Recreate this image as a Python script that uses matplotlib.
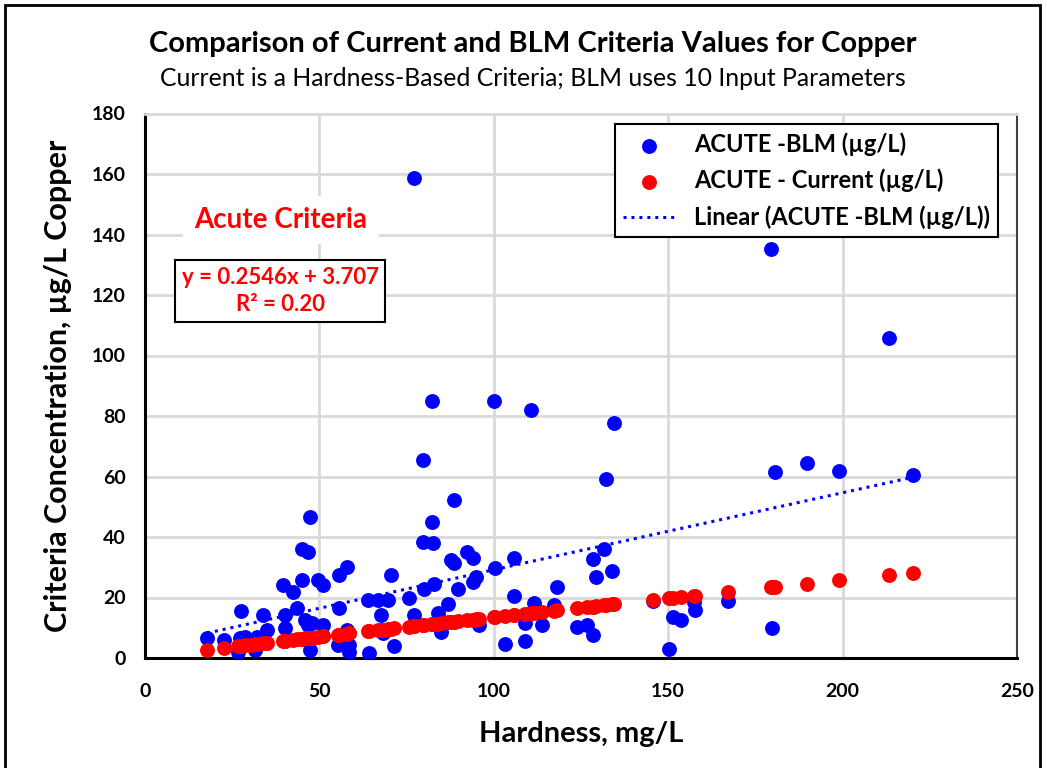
import matplotlib
matplotlib.use("Agg")
import matplotlib.pyplot as plt
from matplotlib.patches import Rectangle

# hardness (mg/L) for each sample
hardness = [
    17.8, 22.7, 26.7, 27.3, 27.6, 28.7, 30.5, 31.6, 32.2, 33.9,
    35.0, 39.7, 40.2, 40.2, 42.5, 43.7, 45.0, 45.1, 46.0, 46.8,
    46.8, 47.4, 47.4, 48.0, 49.7, 50.9, 51.1, 55.2, 55.5, 55.5,
    57.8, 58.0, 58.6, 58.6, 63.8, 64.1, 66.7, 67.8, 68.1, 69.8,
    70.4, 71.3, 75.6, 77.0, 77.0, 79.6, 79.6, 79.9, 82.2, 82.2,
    82.5, 82.8, 83.9, 84.8, 87.0, 87.6, 88.5, 88.5, 89.7, 92.2,
    94.0, 94.0, 94.8, 95.7, 100.0, 100.3, 103.2, 105.7, 105.7, 108.9,
    108.9, 110.6, 111.5, 113.8, 117.2, 118.1, 123.9, 126.7, 128.4, 128.4,
    129.3, 131.6, 132.2, 133.9, 134.5, 145.5, 150.3, 151.4, 153.7, 157.5,
    157.8, 167.2, 179.6, 179.9, 180.7, 189.9, 199.1, 213.2, 220.1,
]

acute_blm = [
    6.6, 6.0, 2.0, 6.6, 15.5, 6.9, 4.5, 2.6, 6.9, 14.2,
    9.3, 24.1, 14.2, 9.9, 21.8, 16.5, 25.8, 36.0, 12.6, 35.0,
    11.0, 2.6, 46.6, 11.6, 25.8, 10.9, 24.1, 4.3, 27.4, 16.5,
    30.1, 9.3, 4.3, 2.0, 19.2, 1.7, 19.2, 14.2, 8.3, 19.2,
    27.4, 4.0, 19.8, 14.2, 158.7, 65.5, 38.3, 22.8, 85.0, 45.0,
    38.0, 24.5, 14.9, 8.6, 17.9, 32.4, 31.4, 52.2, 22.8, 35.0,
    33.0, 25.1, 26.8, 10.9, 85.0, 29.8, 4.6, 33.0, 20.5, 11.6,
    5.6, 82.0, 18.2, 10.9, 17.5, 23.5, 10.2, 10.9, 7.6, 32.7,
    26.8, 36.0, 59.2, 28.8, 77.7, 19.0, 3.0, 13.6, 12.6, 18.5,
    15.9, 18.8, 135.2, 9.9, 61.5, 64.5, 61.8, 105.8, 60.5,
]

acute_current = [
    2.64, 3.32, 3.87, 3.96, 4.00, 4.15, 4.39, 4.54, 4.62, 4.85,
    5.00, 5.63, 5.69, 5.69, 6.00, 6.16, 6.33, 6.35, 6.47, 6.57,
    6.57, 6.65, 6.65, 6.73, 6.95, 7.11, 7.14, 7.68, 7.72, 7.72,
    8.02, 8.05, 8.12, 8.12, 8.80, 8.84, 9.18, 9.32, 9.36, 9.58,
    9.66, 9.77, 10.33, 10.51, 10.51, 10.84, 10.84, 10.88, 11.17, 11.17,
    11.21, 11.25, 11.39, 11.51, 11.79, 11.86, 11.98, 11.98, 12.13, 12.45,
    12.68, 12.68, 12.78, 12.89, 13.44, 13.48, 13.85, 14.17, 14.17, 14.57,
    14.57, 14.78, 14.89, 15.19, 15.61, 15.72, 16.46, 16.80, 17.01, 17.01,
    17.12, 17.41, 17.48, 17.69, 17.76, 19.13, 19.73, 19.86, 20.15, 20.61,
    20.64, 21.80, 23.34, 23.38, 23.48, 24.59, 25.71, 27.43, 28.25,
]

# Excel linear trendline on the BLM series
trend_slope = 0.2546
trend_intercept = 3.707
trend_r2 = 0.20

x_ticks = [0, 50, 100, 150, 200, 250]
y_ticks = [0, 20, 40, 60, 80, 100, 120, 140, 160, 180]

plt.rcParams["font.family"] = ["Lato", "DejaVu Sans"]

fig = plt.figure(figsize=(10.47, 7.68), dpi=100)
ax = fig.add_axes([145 / 1047, 1 - 658 / 768, (1017 - 145) / 1047, (658 - 113.5) / 768])

# outer chart frame
fig.patches.append(Rectangle((5 / 1047, -0.05), (1040 - 5) / 1047, 1.05 - 5 / 768,
                             transform=fig.transFigure, fill=False,
                             edgecolor="black", linewidth=2))

ax.scatter(hardness, acute_blm, s=115, color="#0000FF", zorder=3,
           label="ACUTE -BLM (\u00b5g/L)", linewidths=0)
ax.scatter(hardness, acute_current, s=115, color="#FF0000", zorder=4,
           label="ACUTE - Current (\u00b5g/L)", linewidths=0)

tx = [min(hardness), max(hardness)]
ty = [trend_slope * v + trend_intercept for v in tx]
ax.plot(tx, ty, color="#0000FF", linestyle=(0, (1, 1.6)), linewidth=2.2,
        zorder=5, label="Linear (ACUTE -BLM (\u00b5g/L))")

ax.set_xlim(0, 250)
ax.set_ylim(0, 180)
ax.set_xticks(x_ticks)
ax.set_yticks(y_ticks)
ax.tick_params(axis="y", length=0, labelsize=14, pad=14)
ax.tick_params(axis="x", length=0, labelsize=14, pad=18)
for lab in ax.get_xticklabels() + ax.get_yticklabels():
    lab.set_fontweight("bold")
ax.grid(True, color="#D9D9D9", linewidth=2)
ax.set_axisbelow(True)
for side in ["left", "bottom"]:
    ax.spines[side].set_linewidth(2.2)
    ax.spines[side].set_color("black")
ax.spines["right"].set_color("#404040")
ax.spines["right"].set_linewidth(1.5)
ax.spines["top"].set_color("#D9D9D9")
ax.spines["top"].set_linewidth(2)

ax.set_xlabel("Hardness, mg/L", fontsize=21, fontweight="bold", labelpad=15)
ax.set_ylabel("Criteria Concentration, \u00b5g/L Copper", fontsize=22,
              fontweight="bold", labelpad=14)

fig.text(533 / 1047, 1 - 44 / 768, "Comparison of Current and BLM Criteria Values for Copper",
         ha="center", va="center", fontsize=21, fontweight="bold")
fig.text(533 / 1047, 1 - 78 / 768, "Current is a Hardness-Based Criteria; BLM uses 10 Input Parameters",
         ha="center", va="center", fontsize=17.8)

ax.text(281 / 1047, 1 - 220 / 768, "Acute Criteria", transform=fig.transFigure,
        ha="center", va="center", fontsize=20, fontweight="bold", color="#FF0000",
        bbox=dict(facecolor="white", edgecolor="none", pad=8), zorder=6)
ax.text(280 / 1047, 1 - 291 / 768,
        "y = %.4fx + %.3f\nR\u00b2 = %.2f" % (trend_slope, trend_intercept, trend_r2),
        transform=fig.transFigure, ha="center", va="center", fontsize=16,
        fontweight="bold", color="#FF0000", linespacing=1.35,
        bbox=dict(facecolor="white", edgecolor="black", linewidth=1.5,
                  boxstyle="square,pad=0.3"), zorder=6)

leg = ax.legend(loc="upper right", bbox_to_anchor=(998 / 1047, 1 - 124 / 768),
                bbox_transform=fig.transFigure, fontsize=17, frameon=True,
                fancybox=False, edgecolor="black", framealpha=1,
                handlelength=2.2, handletextpad=0.8, borderpad=0.35,
                labelspacing=0.55, scatterpoints=1, borderaxespad=0)
leg.get_frame().set_linewidth(1.5)
for t in leg.get_texts():
    t.set_fontweight("bold")
leg.set_zorder(7)

fig.savefig("out.png", dpi=100)
